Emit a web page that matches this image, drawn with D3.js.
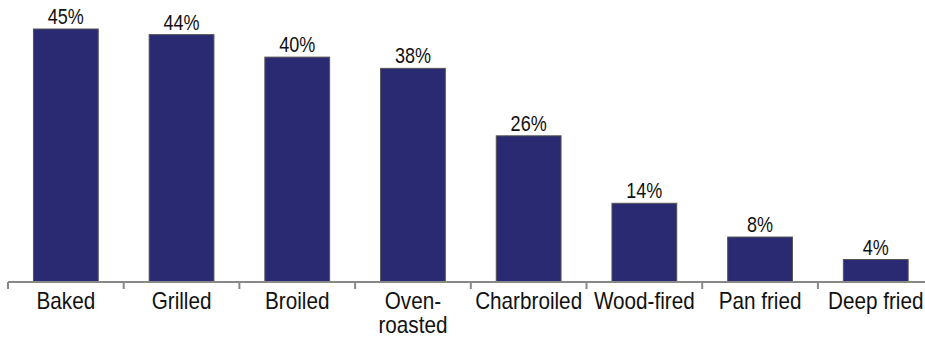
<!DOCTYPE html>
<html>
<head>
<meta charset="utf-8">
<script src="https://cdn.jsdelivr.net/npm/d3@7"></script>
<style>
  body { margin: 0; background: #fff; }
  text { font-family: "Liberation Sans", Arial, sans-serif; fill: #111; }
</style>
</head>
<body>
<svg id="chart" width="925" height="339"></svg>
<script>
// Data
const categories = ["Baked", "Grilled", "Broiled", "Oven-roasted", "Charbroiled", "Wood-fired", "Pan fried", "Deep fried"];
const labelLines = [["Baked"], ["Grilled"], ["Broiled"], ["Oven-", "roasted"], ["Charbroiled"], ["Wood-fired"], ["Pan fried"], ["Deep fried"]];
const values = [45, 44, 40, 38, 26, 14, 8, 4];

const svg = d3.select("#chart");
const baseY = 282;
const left = 8;
const step = 115.7;

const x = d3.scaleBand()
    .domain(categories)
    .range([left, left + step * categories.length])
    .paddingInner(0.44)
    .paddingOuter(0.22);

const y = d3.scaleLinear()
    .domain([0, 45])
    .range([baseY, 29]);

// bars
svg.selectAll(".bar")
    .data(values)
    .enter()
    .append("rect")
    .attr("class", "bar")
    .attr("x", (d, i) => x(categories[i]))
    .attr("y", d => y(d))
    .attr("width", x.bandwidth())
    .attr("height", d => baseY - y(d))
    .attr("fill", "#2a2a72")
    .attr("stroke", "#555")
    .attr("stroke-width", 1);

// value labels (narrowed to look like a condensed face)
svg.selectAll(".val")
    .data(values)
    .enter()
    .append("text")
    .attr("class", "val")
    .attr("transform", (d, i) => `translate(${x(categories[i]) + x.bandwidth() / 2},${y(d) - 5}) scale(0.82,1)`)
    .attr("text-anchor", "middle")
    .style("font-size", "22px")
    .text(d => `${d}%`);

// axis line and ticks between categories
svg.append("line")
    .attr("x1", left).attr("x2", 925)
    .attr("y1", baseY).attr("y2", baseY)
    .attr("stroke", "#888").attr("stroke-width", 2);

const tickPos = categories.map(c => x(c) - x.step() * x.paddingInner() / 2);
tickPos[0] = left;
svg.selectAll(".tick")
    .data(tickPos)
    .enter()
    .append("line")
    .attr("x1", d => d).attr("x2", d => d)
    .attr("y1", baseY).attr("y2", baseY + 7)
    .attr("stroke", "#888").attr("stroke-width", 2);

// category labels
const cat = svg.selectAll(".cat")
    .data(labelLines)
    .enter()
    .append("text")
    .attr("class", "cat")
    .attr("text-anchor", "middle")
    .style("font-size", "23px")
    .attr("transform", (d, i) => `translate(${x(categories[i]) + x.bandwidth() / 2},309) scale(0.9,1)`);

cat.selectAll("tspan")
    .data(d => d)
    .enter()
    .append("tspan")
    .attr("x", 0)
    .attr("dy", (d, i) => i === 0 ? 0 : 24)
    .text(d => d);
</script>
</body>
</html>
